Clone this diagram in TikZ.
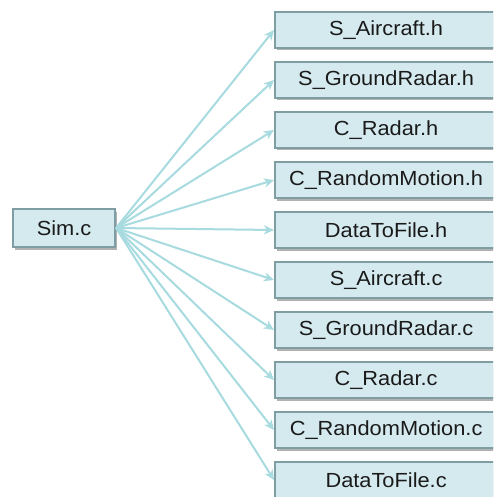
\documentclass[tikz,border=0pt]{standalone}
\usepackage{fontspec}
\usepackage{graphicx}
\setmainfont{Liberation Sans}
\usetikzlibrary{arrows.meta,shadows}
\definecolor{boxfill}{HTML}{D5EAEF}
\definecolor{boxline}{HTML}{7E9EA3}
\definecolor{arrowc}{HTML}{A7DBE0}
\definecolor{txt}{HTML}{1A1A1A}
\newcommand{\lbl}[1]{\scalebox{1.09}[1.02]{#1}}
\tikzset{
  filebox/.style={draw=boxline, line width=2.2pt, fill=boxfill, minimum height=36pt,
    inner sep=0pt, text=txt, font=\fontsize{20}{24}\selectfont,
    drop shadow={shadow xshift=1.5pt, shadow yshift=-2.5pt, fill=black!55, opacity=0.55}},
  rbox/.style={filebox, minimum width=222pt, anchor=west},
  link/.style={draw=arrowc, line width=2pt, -{Stealth[length=10pt,width=9pt,inset=3pt]}}
}
\begin{document}
\begin{tikzpicture}[x=1pt,y=-1pt]
\useasboundingbox (0,0) rectangle (493,497);
\clip (0,0) rectangle (493,497);
\fill[white] (0,0) rectangle (493,497);
\node[filebox, minimum width=102pt, minimum height=38pt] (sim) at (64,228) {\lbl{Sim.c}};
\node[rbox] (b1) at (274,30) {\lbl{S\_Aircraft.h}};
\node[rbox] (b2) at (274,80) {\lbl{S\_GroundRadar.h}};
\node[rbox] (b3) at (274,130) {\lbl{C\_Radar.h}};
\node[rbox] (b4) at (274,180) {\lbl{C\_RandomMotion.h}};
\node[rbox] (b5) at (274,230) {\lbl{DataToFile.h}};
\node[rbox] (b6) at (274,280) {\lbl{S\_Aircraft.c}};
\node[rbox] (b7) at (274,330) {\lbl{S\_GroundRadar.c}};
\node[rbox] (b8) at (274,380) {\lbl{C\_Radar.c}};
\node[rbox] (b9) at (274,430) {\lbl{C\_RandomMotion.c}};
\node[rbox] (b10) at (274,480) {\lbl{DataToFile.c}};
\foreach \i in {1,...,10} {
  \draw[link] (sim.east) -- (b\i.west);
}
\end{tikzpicture}
\end{document}
